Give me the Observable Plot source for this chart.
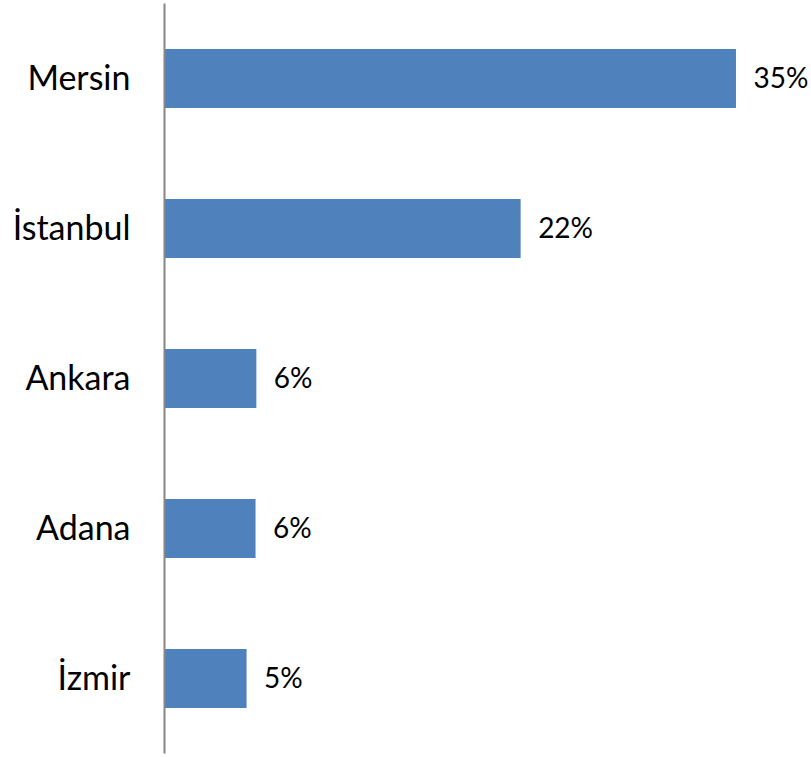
<!DOCTYPE html>
<html>
<head>
<meta charset="utf-8">
<script src="https://cdn.jsdelivr.net/npm/d3@7"></script>
<script src="https://cdn.jsdelivr.net/npm/@observablehq/plot@0.6"></script>
<style>
  html, body { margin: 0; padding: 0; background: white; }
</style>
</head>
<body>
<div id="chart"></div>
<script>
const categories = ["Mersin", "İstanbul", "Ankara", "Adana", "İzmir"];
const values = [35.0, 21.8, 5.6, 5.55, 5.0];
const valueLabels = ["35%", "22%", "6%", "6%", "5%"];

const data = categories.map((c, i) => ({cat: c, value: values[i], label: valueLabels[i]}));

const chart = Plot.plot({
  width: 811,
  height: 757,
  marginLeft: 165,
  marginRight: 0,
  marginTop: 3.5,
  marginBottom: 3.5,
  x: {domain: [0, 39.6], axis: null},
  y: {domain: categories, paddingInner: 0.607, paddingOuter: 0.3035, label: null},
  style: {fontFamily: "Lato, 'Open Sans', sans-serif", color: "black", background: "white"},
  marks: [
    Plot.barX(data, {x: "value", y: "cat", fill: "#4F81BD"}),
    Plot.ruleX([0], {stroke: "#868686", strokeWidth: 2, dx: -1}),
    Plot.text(data, {x: "value", y: "cat", text: "label", textAnchor: "start", dx: 17, fontSize: 28, fill: "black"}),
    Plot.axisY({tickSize: 0, tickPadding: 35, fontSize: 34, label: null, fill: "black"})
  ]
});
document.getElementById("chart").appendChild(chart);
</script>
</body>
</html>
